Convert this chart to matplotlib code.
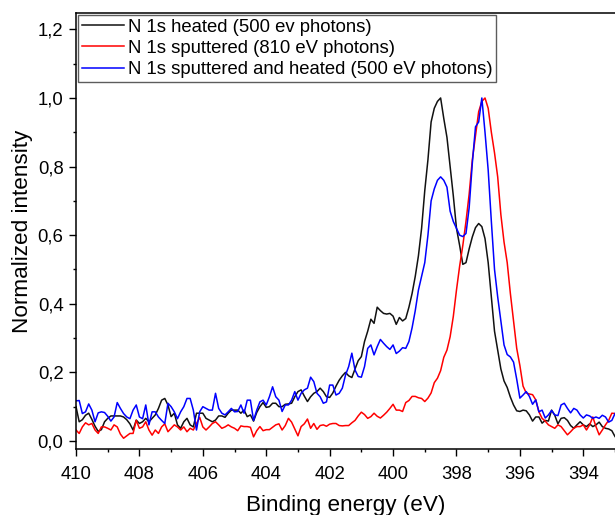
import matplotlib
matplotlib.use('Agg')
import numpy as np
import matplotlib.pyplot as plt
from matplotlib.ticker import MultipleLocator, FuncFormatter

plt.rcParams['font.family'] = ['Liberation Sans', 'DejaVu Sans']

# binding energy grid, 410.0 -> 393.0 eV in 0.1 eV steps
energy = np.linspace(410.0, 393.0, 171)

heated = [
    0.10, 0.056, 0.062, 0.075, 0.081, 0.063, 0.043, 0.028, 0.033, 0.056,
    0.066, 0.073, 0.073, 0.073, 0.073, 0.07, 0.062, 0.05, 0.032, 0.061,
    0.051, 0.056, 0.066, 0.056, 0.066, 0.076, 0.095, 0.119, 0.124, 0.105,
    0.071, 0.081, 0.047, 0.037, 0.056, 0.066, 0.047, 0.041, 0.081, 0.081,
    0.081, 0.066, 0.061, 0.056, 0.061, 0.073, 0.073, 0.069, 0.081, 0.09,
    0.09,
    0.09, 0.081, 0.09, 0.071, 0.076, 0.058, 0.083, 0.1, 0.112, 0.098,
    0.1, 0.11, 0.11, 0.1, 0.1, 0.107, 0.108, 0.11, 0.129, 0.144,
    0.149, 0.131, 0.115, 0.129, 0.139, 0.144, 0.154, 0.144, 0.129, 0.127,
    0.14, 0.16, 0.177, 0.19, 0.2, 0.19, 0.185, 0.21, 0.234, 0.246,
    0.29, 0.32, 0.355, 0.343, 0.39, 0.38, 0.372, 0.37, 0.372, 0.364,
    0.34, 0.36, 0.35, 0.357, 0.39, 0.43, 0.48, 0.54, 0.62, 0.73,
    0.82, 0.93, 0.97, 0.99, 1.0, 0.94, 0.885, 0.8, 0.715, 0.62,
    0.57, 0.515, 0.52, 0.56, 0.595, 0.622, 0.634, 0.625, 0.59, 0.52,
    0.42, 0.32, 0.265, 0.21, 0.175, 0.156, 0.128, 0.105, 0.088, 0.086,
    0.09, 0.088, 0.076, 0.058, 0.07, 0.07, 0.052, 0.06, 0.058, 0.09,
    0.075, 0.05, 0.066, 0.068, 0.06, 0.045, 0.037, 0.047, 0.056, 0.047,
    0.042, 0.05, 0.042, 0.047, 0.055, 0.042, 0.037, 0.035, 0.03, 0.013,
]

sputtered = [
    0.032, 0.022, 0.041, 0.053, 0.047, 0.051, 0.032, 0.022, 0.041, 0.041,
    0.037, 0.032, 0.047, 0.041, 0.02, 0.008, 0.015, 0.022, 0.022, 0.06,
    0.037, 0.041, 0.056, 0.032, 0.017, 0.032, 0.022, 0.041, 0.05, 0.027,
    0.037, 0.047, 0.041, 0.032, 0.041, 0.027, 0.037, 0.032, 0.051, 0.069,
    0.041, 0.032, 0.041, 0.051, 0.056, 0.047, 0.037, 0.041, 0.047, 0.041,
    0.037,
    0.03, 0.044, 0.042, 0.042, 0.04, 0.012, 0.03, 0.042, 0.03, 0.033,
    0.033, 0.04, 0.047, 0.05, 0.032, 0.045, 0.066, 0.055, 0.035, 0.015,
    0.042, 0.05, 0.064, 0.037, 0.051, 0.034, 0.045, 0.047, 0.043, 0.049,
    0.051, 0.051, 0.045, 0.044, 0.045, 0.045, 0.053, 0.06, 0.073, 0.084,
    0.077, 0.066, 0.071, 0.081, 0.072, 0.067, 0.075, 0.084, 0.095, 0.107,
    0.09, 0.09, 0.086, 0.112, 0.118, 0.13, 0.13, 0.126, 0.124, 0.115,
    0.125, 0.14, 0.17, 0.183, 0.205, 0.244, 0.265, 0.304, 0.363, 0.44,
    0.51, 0.57, 0.64, 0.72, 0.82, 0.89, 0.96, 0.99, 1.0, 0.97,
    0.9, 0.84, 0.77, 0.66, 0.58, 0.52, 0.43, 0.35, 0.27, 0.22,
    0.16, 0.14, 0.137, 0.135, 0.12, 0.085, 0.066, 0.058, 0.047, 0.042,
    0.037, 0.047, 0.042, 0.03, 0.018, 0.027, 0.037, 0.042, 0.042, 0.047,
    0.032, 0.047, 0.07, 0.042, 0.018, 0.032, 0.047, 0.06, 0.081, 0.08,
]

sput_heated = [
    0.117, 0.118, 0.08, 0.085, 0.108, 0.09, 0.056, 0.082, 0.085, 0.083,
    0.072, 0.058, 0.07, 0.112, 0.095, 0.08, 0.07, 0.065, 0.09, 0.105,
    0.07, 0.065, 0.105, 0.047, 0.085, 0.085, 0.07, 0.06, 0.051, 0.11,
    0.1, 0.085, 0.065, 0.085, 0.1, 0.124, 0.124, 0.09, 0.032, 0.085,
    0.1, 0.095, 0.09, 0.09, 0.139, 0.095, 0.081, 0.076, 0.085, 0.095,
    0.085,
    0.086, 0.105, 0.081, 0.119, 0.119, 0.06, 0.09, 0.114, 0.119, 0.105,
    0.129, 0.158, 0.129, 0.119, 0.086, 0.105, 0.105, 0.119, 0.144, 0.119,
    0.139, 0.149, 0.154, 0.186, 0.173, 0.139, 0.129, 0.11, 0.114, 0.163,
    0.163, 0.134, 0.139, 0.154, 0.192, 0.217, 0.256, 0.207, 0.188, 0.186,
    0.217, 0.27, 0.28, 0.251, 0.275, 0.296, 0.285, 0.275, 0.267, 0.28,
    0.255, 0.262, 0.272, 0.27, 0.29, 0.33, 0.38, 0.44, 0.48, 0.52,
    0.6, 0.7, 0.735, 0.76, 0.77, 0.76, 0.74, 0.67, 0.64, 0.62,
    0.6, 0.596, 0.605, 0.68, 0.81, 0.916, 0.93, 1.0, 0.9, 0.79,
    0.64, 0.5, 0.42, 0.35, 0.28, 0.252, 0.245, 0.23, 0.18, 0.125,
    0.134, 0.144, 0.13, 0.107, 0.12, 0.085, 0.09, 0.067, 0.076, 0.089,
    0.076, 0.074, 0.105, 0.11, 0.095, 0.082, 0.095, 0.09, 0.076, 0.067,
    0.076, 0.073, 0.066, 0.07, 0.066, 0.075, 0.07, 0.055, 0.06, 0.08,
]

labels = ['N 1s heated (500 ev photons)',
          'N 1s sputtered (810 eV photons)',
          'N 1s sputtered and heated (500 eV photons)']
colors = ['#111111', '#ff0000', '#0000ff']

fig = plt.figure(figsize=(6.15, 5.15), dpi=100)
ax = fig.add_axes([0.1236, 0.1282, 0.8764, 0.8466])

for data, lab, col in zip([heated, sputtered, sput_heated], labels, colors):
    ax.plot(energy, data, color=col, lw=1.1, label=lab)

ax.set_xlim(410, 393.0)
ax.set_ylim(-0.0233, 1.2478)

ax.xaxis.set_major_locator(MultipleLocator(2))
ax.xaxis.set_minor_locator(MultipleLocator(1))
ax.yaxis.set_major_locator(MultipleLocator(0.2))
ax.yaxis.set_minor_locator(MultipleLocator(0.1))
ax.yaxis.set_major_formatter(FuncFormatter(lambda v, p: ('%.1f' % v).replace('.', ',')))
ax.xaxis.set_major_formatter(FuncFormatter(lambda v, p: '%d' % round(v)))

ax.tick_params(which='major', direction='out', length=5, width=1.0, labelsize=13.3, pad=4)
ax.tick_params(which='minor', direction='out', length=2.5, width=1.0)
ax.tick_params(axis='x', which='major', pad=7)

for s in ['left', 'bottom', 'top']:
    ax.spines[s].set_linewidth(1.1)
ax.spines['right'].set_visible(False)

ax.set_xlabel('Binding energy (eV)', fontsize=16.2, labelpad=9)
ax.set_ylabel('Normalized intensity', fontsize=16.2, labelpad=3)

leg = ax.legend(loc='upper left', fontsize=13.3, frameon=True, fancybox=False,
                borderaxespad=0.12, borderpad=0.2, labelspacing=0.22,
                handlelength=2.27, handletextpad=0.22)
leg.get_frame().set_edgecolor('#333333')
leg.get_frame().set_linewidth(1.0)

plt.savefig('out.png', dpi=100)
